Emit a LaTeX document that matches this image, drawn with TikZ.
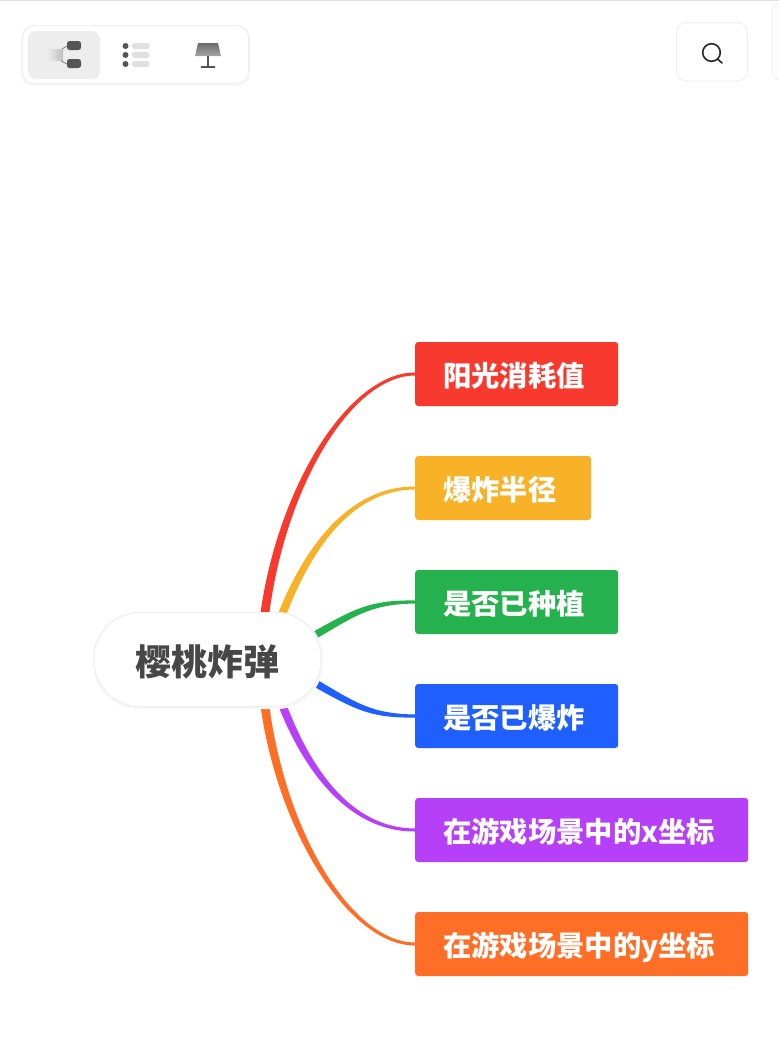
\documentclass[tikz,border=0pt]{standalone}
\usepackage{fontspec}
\newfontfamily\cjk{Noto Sans CJK SC}
\usetikzlibrary{calc,shadings}
\definecolor{cred}{HTML}{F83A2E}
\definecolor{cyellow}{HTML}{F7B228}
\definecolor{cgreen}{HTML}{25B14D}
\definecolor{cblue}{HTML}{1F5FFF}
\definecolor{cpurple}{HTML}{B63FF8}
\definecolor{corange}{HTML}{FF6E26}
\definecolor{cdark}{HTML}{555555}
\definecolor{cborder}{HTML}{EFEFEF}
\newcommand{\lbl}[1]{\raisebox{0pt}[27pt][1.4pt]{#1}}
\tikzset{
  x=1pt,y=-1pt,
  branch/.style={rectangle,rounded corners=3pt,anchor=west,fill=#1,text=white,minimum height=64pt,inner xsep=28pt,inner ysep=0pt,align=left,font=\cjk\bfseries\fontsize{28.3}{32}\selectfont},
  rootnode/.style={rectangle,rounded corners=46pt,fill=white,draw=cborder,line width=1pt,minimum width=227pt,minimum height=94pt,inner sep=0pt,text=black!72,font=\cjk\bfseries\fontsize{36}{40}\selectfont},
  panel/.style={fill=white,draw=cborder,line width=1pt},
  darkbit/.style={fill=cdark,draw=none},
  lightbit/.style={fill=black!12,draw=none}
}
% colour, start coordinate, half-width vector, control 1, control 2, end node
\newcommand{\taper}[6]{%
  \fill[#1] ($(#2)-(#3)$) .. controls ($(#4)-0.85*(#3)$) and ($(#5)-0.25*(#3)+(0,-1.5)$) .. ($(#6.west)+(0,-1.5)$)
    -- ($(#6.west)+(0,1.5)$) .. controls ($(#5)+0.25*(#3)+(0,1.5)$) and ($(#4)+0.85*(#3)$) .. ($(#2)+(#3)$) -- cycle;}
\begin{document}
\begin{tikzpicture}
\useasboundingbox (0,0) rectangle (779,1058);
\fill[white] (0,0) rectangle (779,1058);
\fill[black!12] (0,0) rectangle (779,1.2);

% toolbar
\fill[black!3,rounded corners=12pt] (21,26) rectangle (250,86);
\draw[panel,rounded corners=12pt] (22.5,25.5) rectangle (248.5,83.5);
\fill[black!7,rounded corners=8pt] (28,31) rectangle (100,79);
\shade[left color=black!7,right color=black!25] (47,49) rectangle (63,60);
\draw[black!50,line width=0.8pt] (62,49) -- (67,46);
\draw[black!50,line width=0.8pt] (61,61) -- (67,64);
\fill[darkbit,rounded corners=2.5pt] (67,41) rectangle (81,50);
\fill[darkbit,rounded corners=2.5pt] (67,59) rectangle (81,68);
\foreach \yy in {46,55,64}{
  \fill[cdark] (125.5,\yy) circle (3);
  \fill[lightbit,rounded corners=2.5pt] (132,\yy-3) rectangle (149.5,\yy+3);
}
\shade[top color=black!58,bottom color=black!35] (198,43) -- (218,43) -- (221,56) -- (195,56) -- cycle;
\fill[darkbit] (207,56) rectangle (209,66);
\fill[darkbit] (201,66) rectangle (215,68);

% search button
\draw[panel,rounded corners=10pt] (676.5,22.5) rectangle (747.5,81);
\draw[black!85,line width=1.6pt] (711.5,52.5) circle (8.8);
\draw[black!85,line width=1.6pt,line cap=round] (717.5,59) -- (722,63);
\draw[black!5,fill=black!1,line width=1pt,rounded corners=8pt] (772,3) rectangle (800,80);

% nodes
\node[branch=cred,text width=147pt] (n1) at (415,374) {\lbl{阳光消耗值}};
\node[branch=cyellow,text width=120pt] (n2) at (415,488) {\lbl{爆炸半径}};
\node[branch=cgreen,text width=147pt] (n3) at (415,602) {\lbl{是否已种植}};
\node[branch=cblue,text width=147pt] (n4) at (415,716) {\lbl{是否已爆炸}};
\node[branch=cpurple,text width=277pt] (n5) at (415,830) {\lbl{在游戏场景中的x坐标}};
\node[branch=corange,text width=277pt] (n6) at (415,944) {\lbl{在游戏场景中的y坐标}};

% connectors
\coordinate (s1) at (264,620);
\coordinate (s2) at (280,620);
\coordinate (s3) at (310,638);
\coordinate (s4) at (310,680);
\coordinate (s5) at (280,699);
\coordinate (s6) at (264,699);
\taper{cred}{s1}{4.4,0.5}{280,488}{350,374}{n1}
\taper{cyellow}{s2}{3.8,1.5}{310,540}{355,488}{n2}
\taper{cgreen}{s3}{1.8,3.4}{355,612}{370,602}{n3}
\taper{cblue}{s4}{-1.8,3.4}{355,706}{370,716}{n4}
\taper{cpurple}{s5}{-3.8,1.5}{310,779}{355,830}{n5}
\taper{corange}{s6}{-4.4,0.5}{280,830}{350,944}{n6}

% root
\fill[black!3,rounded corners=46pt] (93,612) rectangle (323,709);
\node[rootnode] (root) at (207.5,659.5) {\raisebox{0pt}[36pt][3.6pt]{樱桃炸弹}};
\end{tikzpicture}
\end{document}
